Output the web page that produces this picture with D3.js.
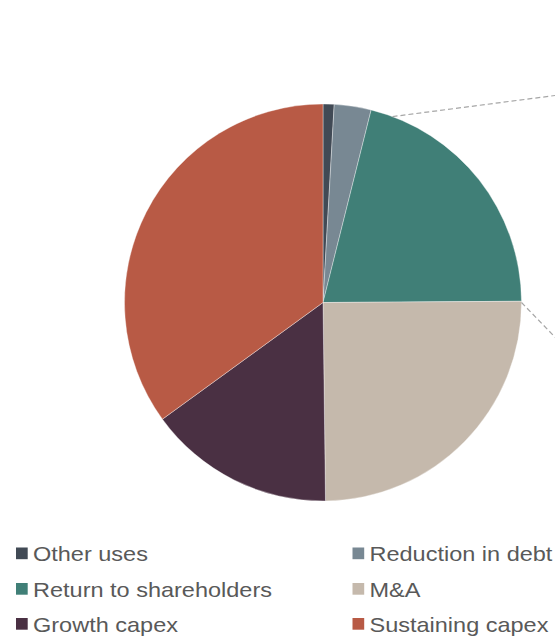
<!DOCTYPE html>
<html>
<head>
<meta charset="utf-8">
<script src="https://cdn.jsdelivr.net/npm/d3@7"></script>
<style>
  html, body { margin: 0; padding: 0; background: #ffffff; }
  svg { display: block; }
</style>
</head>
<body>
<svg id="chart" width="555" height="638"></svg>
<script>
// Uses of cash, share of total (%), clockwise from 12 o'clock
const categories = ["Other uses", "Reduction in debt", "Return to shareholders", "M&A", "Growth capex", "Sustaining capex"];
const values = [0.9, 3.0, 21.0, 24.9, 15.2, 35.0];
const colors = ["#414a55", "#788893", "#407f77", "#c5b9ac", "#4a3043", "#b85a45"];

// Legend layout: two columns, three rows
const legendColumns = [0, 1, 0, 1, 0, 1];
const legendRows = [0, 0, 1, 1, 2, 2];

// Connector lines toward the secondary breakdown (angle on pie in degrees, direction vector)
const connectorAngles = [20.5, 90];
const connectorDirections = [[162, -21], [31, 32]];

const svg = d3.select("#chart");
const cx = 323, cy = 302.5, r = 198.5;

const pie = d3.pie().sort(null).value(d => d.value);
const arc = d3.arc().innerRadius(0).outerRadius(r);
const data = categories.map((c, i) => ({ name: c, value: values[i], color: colors[i] }));

const g = svg.append("g").attr("transform", `translate(${cx},${cy})`);

// Connector lines (dashed, grey)
const conn = svg.append("g");
connectorAngles.forEach((a, i) => {
  const rad = a * Math.PI / 180;
  const x0 = cx + r * Math.sin(rad), y0 = cy - r * Math.cos(rad);
  const [dx, dy] = connectorDirections[i];
  const k = 3;
  conn.append("line")
    .attr("x1", x0).attr("y1", y0)
    .attr("x2", x0 + dx * k).attr("y2", y0 + dy * k)
    .attr("stroke", "#a6a6a6")
    .attr("stroke-width", 1.2)
    .attr("stroke-dasharray", "5,3");
});

g.selectAll("path")
  .data(pie(data))
  .join("path")
  .attr("d", arc)
  .attr("fill", d => d.data.color)
  .attr("stroke", "#ffffff")
  .attr("stroke-width", 0.6)
  .attr("stroke-opacity", 0.6);

// Legend
const colX = [16, 352.5];
const rowY = [547.5, 583, 618];
const legend = svg.append("g");
data.forEach((d, i) => {
  const x = colX[legendColumns[i]], y = rowY[legendRows[i]];
  legend.append("rect")
    .attr("x", x).attr("y", y)
    .attr("width", 11.7).attr("height", 11.7)
    .attr("fill", d.color);
  legend.append("text")
    .attr("transform", `translate(${x + 17},${y + 13.5}) scale(1.2,1)`)
    .attr("font-family", "'Liberation Sans', Arial, sans-serif")
    .attr("font-size", 19.6)
    .attr("fill", "#595959")
    .text(d.name);
});
</script>
</body>
</html>
